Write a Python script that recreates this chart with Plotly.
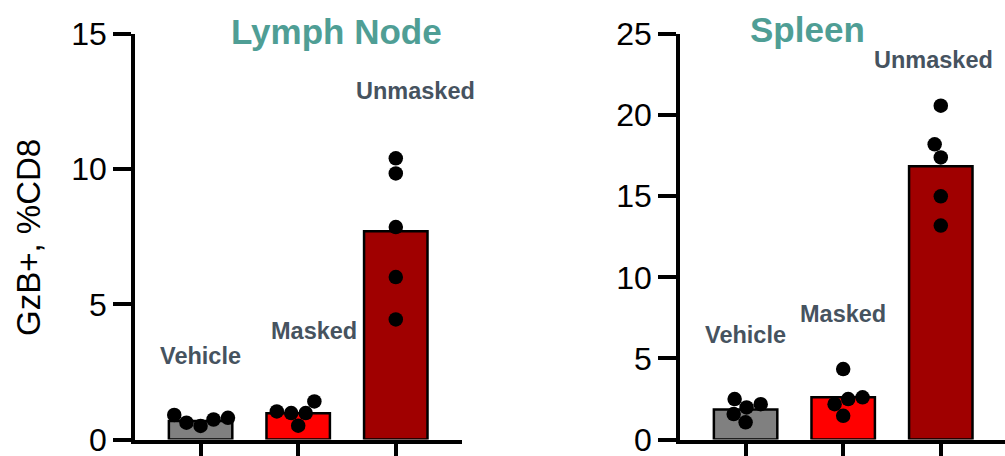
import math
import plotly.graph_objects as go

# ---------------- data ----------------
categories = ["Vehicle", "Masked", "Unmasked"]

ln_means = [0.68, 0.97, 7.70]
ln_vehicle = [0.62, 0.91, 0.74, 0.80, 0.50]
ln_masked = [0.98, 1.41, 0.51, 0.98, 1.04]
ln_unmasked = [10.40, 9.84, 7.86, 6.01, 4.44]

sp_means = [1.85, 2.60, 16.85]
sp_vehicle = [2.18, 1.06, 1.98, 2.49, 1.57]
sp_masked = [2.60, 1.46, 4.34, 2.49, 2.18]
sp_unmasked = [20.58, 18.20, 17.39, 14.99, 13.19]

ln_ticks = [0, 5, 10, 15]
sp_ticks = [0, 5, 10, 15, 20, 25]

bar_colors = ["#808080", "#FF0000", "#A00000"]
title_color = "#4F9E95"
label_color = "#46535F"
FONT = "Arial, Liberation Sans, sans-serif"

W, H = 1005, 456
# plot geometry (pixels)
y_top_px, y_bot_px = 34, 439.5
ln_x0_px, ln_x1_px = 135, 462
sp_x0_px, sp_x1_px = 680, 1005
cat_px = 97.6
x_lo = -0.672
ln_ymax, sp_ymax = 15, 25
DIAM = 14.5


def swarm(values, px_per_y, px_per_x, diam=DIAM):
    """simple deterministic beeswarm: returns x offsets in category units"""
    order = sorted(range(len(values)), key=lambda i: values[i])
    placed = []  # (xpx, ypx)
    offs = [0.0] * len(values)
    for i in order:
        ypx = values[i] * px_per_y
        cands = [0.0]
        for (px, py) in placed:
            dy = abs(py - ypx)
            if dy < diam:
                dx = math.sqrt(diam * diam - dy * dy)
                cands += [px - dx, px + dx]
        best = None
        for c in sorted(cands, key=lambda c: (abs(c), c)):
            ok = all((c - px) ** 2 + (ypx - py) ** 2 >= diam * diam - 1e-6 for (px, py) in placed)
            if ok:
                best = c
                break
        placed.append((best, ypx))
        offs[i] = best / px_per_x
    return offs


fig = go.Figure()

panels = [
    ("x", "y", ln_means, [ln_vehicle, ln_masked, ln_unmasked], ln_ymax),
    ("x2", "y2", sp_means, [sp_vehicle, sp_masked, sp_unmasked], sp_ymax),
]
for xa, ya, means, groups, ymax in panels:
    ppy = (y_bot_px - y_top_px) / ymax
    fig.add_trace(go.Bar(
        x=[0, 1, 2], y=means, xaxis=xa, yaxis=ya, width=0.65,
        marker=dict(color=bar_colors, line=dict(color="black", width=2.5)),
        showlegend=False, hoverinfo="skip"))
    xs, ys = [], []
    for gi, vals in enumerate(groups):
        offs = swarm(vals, ppy, cat_px)
        xs += [gi + o for o in offs]
        ys += vals
    fig.add_trace(go.Scatter(
        x=xs, y=ys, xaxis=xa, yaxis=ya, mode="markers",
        marker=dict(color="black", size=DIAM, line=dict(width=0)),
        showlegend=False, hoverinfo="skip", cliponaxis=False))

ydom = [(H - y_bot_px) / H, (H - y_top_px) / H]
axis_common = dict(showline=True, linecolor="black", linewidth=3.5,
                   ticks="outside", tickwidth=3.5, tickcolor="black",
                   showgrid=False, zeroline=False, automargin=False,
                   ticklabeloverflow="allow",
                   tickfont=dict(family=FONT, size=32, color="black"))

ln_x1 = x_lo + (ln_x1_px - ln_x0_px) / cat_px
sp_x1 = x_lo + (sp_x1_px - sp_x0_px) / cat_px
fig.update_layout(
    width=W, height=H, margin=dict(l=0, r=0, t=0, b=0, autoexpand=False),
    paper_bgcolor="white", plot_bgcolor="white",
    xaxis=dict(domain=[ln_x0_px / W, ln_x1_px / W], range=[x_lo, ln_x1],
               tickvals=[0, 1, 2], ticktext=["", "", ""], ticklen=22, anchor="y",
               **axis_common),
    yaxis=dict(domain=ydom, range=[0, ln_ymax], tickvals=ln_ticks, ticklen=18,
               anchor="x", **axis_common),
    xaxis2=dict(domain=[sp_x0_px / W, 1.0], range=[x_lo, sp_x1],
                tickvals=[0, 1, 2], ticktext=["", "", ""], ticklen=22, anchor="y2",
                **axis_common),
    yaxis2=dict(domain=ydom, range=[0, sp_ymax], tickvals=sp_ticks, ticklen=18,
                anchor="x2", **axis_common),
    bargap=0.35,
)

annots = []
# panel titles
annots.append(dict(text="<b>Lymph Node</b>", x=336 / W, y=1 - 31 / H, xref="paper", yref="paper",
                   xanchor="center", yanchor="middle",
                   showarrow=False, font=dict(family=FONT, size=35, color=title_color)))
annots.append(dict(text="<b>Spleen</b>", x=807 / W, y=1 - 29 / H, xref="paper", yref="paper",
                   xanchor="center", yanchor="middle",
                   showarrow=False, font=dict(family=FONT, size=35, color=title_color)))
# y-axis title
annots.append(dict(text="GzB+, %CD8", x=29 / W, y=1 - 238 / H, xref="paper", yref="paper",
                   xanchor="center", yanchor="middle",
                   textangle=-90, showarrow=False, font=dict(family=FONT, size=33, color="black")))
# category labels
lab_pos_ln = [(0.0, 3.09), (1.16, 4.0), (2.2, 12.88)]
lab_pos_sp = [(0.0, 6.43), (1.0, 7.76), (1.93, 23.42)]
for (xa, ya, pos) in [("x", "y", lab_pos_ln), ("x2", "y2", lab_pos_sp)]:
    for name, (px, py) in zip(categories, pos):
        annots.append(dict(text=f"<b>{name}</b>", x=px, y=py, xref=xa, yref=ya,
                           xanchor="center", yanchor="middle",
                           showarrow=False, font=dict(family=FONT, size=23.5, color=label_color)))
fig.update_layout(annotations=annots)

fig.write_html("out.html")
